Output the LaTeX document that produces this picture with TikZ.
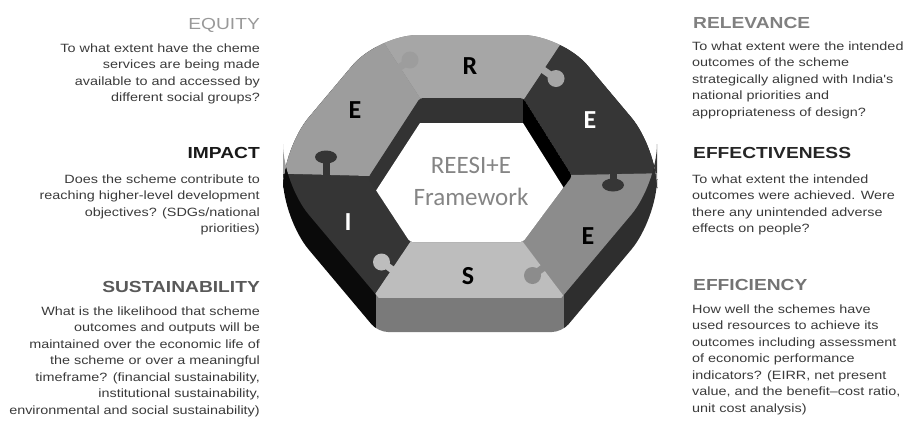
\documentclass[tikz,border=0pt]{standalone}
\usepackage{fontspec}
\setmainfont{Liberation Sans}
\newfontfamily\bodyfont[FakeStretch=1.2]{Liberation Sans}
\newfontfamily\ringfont{Carlito}
\usetikzlibrary{calc}

\definecolor{bodygray}{HTML}{3A3A3A}
\definecolor{pcR}{HTML}{A6A6A6}
\definecolor{pcEL}{HTML}{9D9D9D}
\definecolor{pcERT}{HTML}{363636}
\definecolor{pcERB}{HTML}{8C8C8C}
\definecolor{pcS}{HTML}{BDBDBD}
\definecolor{pcI}{HTML}{353535}
\definecolor{sideS}{HTML}{7A7A7A}
\definecolor{sideR}{HTML}{2E2E2E}
\definecolor{sideL}{HTML}{0A0A0A}
\definecolor{wall}{HTML}{333333}
\definecolor{frametext}{HTML}{858585}

\tikzset{
  headtext/.style={inner sep=0, font=\bodyfont\bfseries\fontsize{16}{18}\selectfont},
  bodytext/.style={inner sep=0, font=\bodyfont\fontsize{12}{16.5}\selectfont, text=bodygray},
  leftblock/.style={bodytext, align=right, anchor=north east},
  rightblock/.style={bodytext, align=left, anchor=north west},
  letter/.style={inner sep=0, font=\ringfont\bfseries\fontsize{26}{26}\selectfont},
  centertext/.style={inner sep=0, text=frametext, font=\ringfont\fontsize{25}{32}\selectfont, align=center},
  ringround/.style={rounded corners=40},
  tabneck/.style={line width=7pt},
}

\begin{document}
\begin{tikzpicture}[x=1pt, y=-1pt]
\useasboundingbox (0,0) rectangle (911,424);

% ---- outline of the puzzle ring ----
% the lower sides of the top face run on past the cut line, so its bottom corners stay sharp
\def\topfacepath{(470,35) -- (562,35) -- (657,148) -- (657,184) -- (509,360) -- (431,360) -- (283,184) -- (283,148) -- (378,35) -- cycle}
\def\holepath{(470,98) -- (523,98) -- (572,176) -- (523,242) -- (410,242) -- (368,178) -- (420,98) -- cycle}

% side walls of the slab
\begin{scope}
  \clip (470,35) [rounded corners=40] -- (562,35) -- (657,148) -- (657,219)
        [rounded corners=10] -- (562,332) -- (378,332)
        [rounded corners=40] -- (283,219) -- (283,148) -- (378,35) -- cycle;
  \fill[sideL] (200,0) rectangle (376,400);
  \fill[sideS] (376,0) rectangle (564,400);
  \fill[sideR] (564,0) rectangle (720,400);
\end{scope}

% top faces of the six pieces
\begin{scope}
  \clip[ringround] \topfacepath;
  \clip (0,0) rectangle (911,297);
  \fill[pcR]   (470,170) -- (420,98) -- (360,6) -- (582,12) -- (525,98) -- cycle;
  \fill[pcERT] (470,170) -- (525,98) -- (582,12) -- (720,0) -- (720,172) -- (572,175) -- cycle;
  \fill[pcERB] (470,170) -- (572,175) -- (720,172) -- (720,380) -- (590,331) -- (523,242) -- cycle;
  \fill[pcS]   (470,170) -- (523,242) -- (590,331) -- (350,331) -- (410,242) -- cycle;
  \fill[pcI]   (470,170) -- (410,242) -- (350,331) -- (220,380) -- (220,172) -- (368,176) -- cycle;
  \fill[pcEL]  (470,170) -- (368,176) -- (220,172) -- (220,0) -- (360,6) -- (420,98) -- cycle;
\end{scope}

% puzzle tabs
\draw[pcI, tabneck]   (326,177) -- (326,158);
\fill[pcI]   (326,157) ellipse (11 and 6.5);
\draw[pcR, tabneck]   (541,68.4) -- (554,77.5);
\fill[pcR]   (556,78.5) circle (8.5);
\draw[pcERT, tabneck] (613,170) -- (613,184);
\fill[pcERT] (613,185) ellipse (11 and 6.5);
\draw[pcERB, tabneck] (545.4,266.2) -- (534,274.5);
\fill[pcERB] (532.5,275.5) circle (8.5);
\draw[pcS, tabneck]   (394,271) -- (383,263);
\fill[pcS]   (381.5,262) circle (8.5);
\draw[pcEL, tabneck]  (397.5,68.6) -- (409,61);
\fill[pcEL]  (410,60) circle (8.5);

% central hole with its inner walls
\fill[wall, rounded corners=3] \holepath;
\begin{scope}
  \clip[rounded corners=3] \holepath;
  \fill[black] (523,98) -- (640,284) -- (640,320) -- (523,123) -- cycle;
  \fill[white, shift={(0,25)}] \holepath;
\end{scope}

% piece letters
\node[letter]             (lR)   at (470,66)  {R};
\node[letter]             (lEL)  at (355,110) {E};
\node[letter, text=white] (lERT) at (590,120) {E};
\node[letter]             (lERB) at (588,236) {E};
\node[letter]             (lS)   at (468,276) {S};
\node[letter, text=white] (lI)   at (348,222) {I};

\node[centertext] (frame) at (471,181) {REESI+E\\Framework};

% ---- left column ----
\node[headtext, anchor=base east, text=black!40, font=\bodyfont\fontsize{16}{18}\selectfont] (hEquity) at (260,29) {EQUITY};
\node[leftblock] (tEquity) at (260,43.2) {To what extent have the cheme\\services are being made\\available to and accessed by\\different social groups?};

\node[headtext, anchor=base east, text=black!90] (hImpact) at (260,158) {IMPACT};
\node[leftblock] (tImpact) at (260,174.5) {Does the scheme contribute to\\reaching higher-level development\\objectives? (SDGs/national\\priorities)};

\node[headtext, anchor=base east, text=black!65] (hSust) at (260,292) {SUSTAINABILITY};
\node[leftblock] (tSust) at (260,306.5) {What is the likelihood that scheme\\outcomes and outputs will be\\maintained over the economic life of\\the scheme or over a meaningful\\timeframe? (financial sustainability,\\institutional sustainability,\\environmental and social sustainability)};

% ---- right column ----
\node[headtext, anchor=base west, text=black!50] (hRel) at (693,28) {RELEVANCE};
\node[rightblock] (tRel) at (692,41.2) {To what extent were the intended\\outcomes of the scheme\\strategically aligned with India's\\national priorities and\\appropriateness of design?};

\node[headtext, anchor=base west, text=black!85] (hEff) at (693,158) {EFFECTIVENESS};
\node[rightblock] (tEff) at (692,174.2) {To what extent the intended\\outcomes were achieved. Were\\there any unintended adverse\\effects on people?};

\node[headtext, anchor=base west, text=black!55] (hEffi) at (693,290) {EFFICIENCY};
\node[rightblock] (tEffi) at (692,304.2) {How well the schemes have\\used resources to achieve its\\outcomes including assessment\\of economic performance\\indicators? (EIRR, net present\\value, and the benefit–cost ratio,\\unit cost analysis)};

\end{tikzpicture}
\end{document}
